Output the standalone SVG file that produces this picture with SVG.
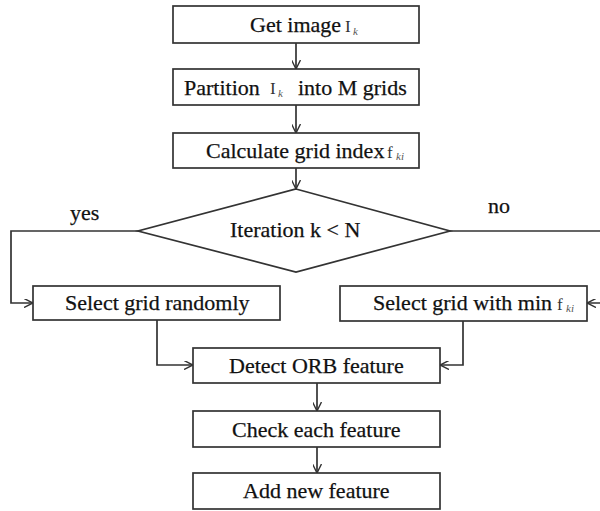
<svg xmlns="http://www.w3.org/2000/svg" width="600" height="511" viewBox="0 0 600 511">
<defs>
<style>
.box{fill:#fff;stroke:#333;stroke-width:1.7}
.ln{fill:none;stroke:#333;stroke-width:1.7}
.t{font-family:"Liberation Serif","Times New Roman",serif;font-size:22px;fill:#111;stroke:#111;stroke-width:0.25}
.s{font-family:"Liberation Serif","Times New Roman",serif;font-size:17px;fill:#333}
.k{font-family:"Liberation Serif","Times New Roman",serif;font-size:11px;font-style:italic;fill:#555}
</style>
<marker id="ah" viewBox="0 0 10 10" refX="10" refY="5" markerWidth="9" markerHeight="9" markerUnits="userSpaceOnUse" orient="auto">
<path d="M0,0 L10,5 L0,10" fill="none" stroke="#333" stroke-width="1.6"/>
</marker>
</defs>
<rect width="600" height="511" fill="#fff"/>
<g id="connectors">
<line class="ln" x1="296" y1="43" x2="296" y2="69" marker-end="url(#ah)"/>
<line class="ln" x1="296" y1="105" x2="296" y2="133" marker-end="url(#ah)"/>
<line class="ln" x1="296" y1="168" x2="296" y2="189" marker-end="url(#ah)"/>
<polyline class="ln" points="138,231 11,231 11,303 33,303" marker-end="url(#ah)"/>
<polyline class="ln" points="450,231 603,231 603,303 587,303" marker-end="url(#ah)"/>
<polyline class="ln" points="157,320 157,365 193,365" marker-end="url(#ah)"/>
<polyline class="ln" points="463,321 463,365 440,365" marker-end="url(#ah)"/>
<line class="ln" x1="317" y1="383" x2="317" y2="411" marker-end="url(#ah)"/>
<line class="ln" x1="317" y1="447" x2="317" y2="473" marker-end="url(#ah)"/>
<text class="t" x="70" y="220">yes</text>
<text class="t" x="488" y="213">no</text>
</g>
<g id="n1">
<rect class="box" x="173" y="6" width="246" height="37"/>
<text class="t" x="250" y="32">Get image</text>
<text class="s" x="345" y="32">I</text><text class="k" x="353" y="35">k</text>
</g>
<g id="n2">
<rect class="box" x="173" y="69" width="246" height="36"/>
<text class="t" x="184" y="95">Partition</text>
<text class="s" x="270" y="94">I</text><text class="k" x="278" y="97">k</text>
<text class="t" x="298" y="95">into M grids</text>
</g>
<g id="n3">
<rect class="box" x="173" y="133" width="246" height="35"/>
<text class="t" x="206" y="158">Calculate grid index</text>
<text class="s" x="387" y="158">f</text><text class="k" x="396" y="160">ki</text>
</g>
<g id="n4">
<polygon class="box" points="296,189 450,231 296,272 138,231"/>
<text class="t" x="230" y="237">Iteration k &lt; N</text>
</g>
<g id="n5">
<rect class="box" x="33" y="286" width="247" height="34"/>
<text class="t" x="65" y="310">Select grid randomly</text>
</g>
<g id="n6">
<rect class="box" x="340" y="286" width="247" height="35"/>
<text class="t" x="373" y="310">Select grid with min</text>
<text class="s" x="557" y="310">f</text><text class="k" x="566" y="312">ki</text>
</g>
<g id="n7">
<rect class="box" x="193" y="348" width="247" height="35"/>
<text class="t" x="229" y="373">Detect ORB feature</text>
</g>
<g id="n8">
<rect class="box" x="193" y="411" width="247" height="36"/>
<text class="t" x="232" y="437">Check each feature</text>
</g>
<g id="n9">
<rect class="box" x="193" y="473" width="247" height="36"/>
<text class="t" x="243" y="498">Add new feature</text>
</g>
</svg>
